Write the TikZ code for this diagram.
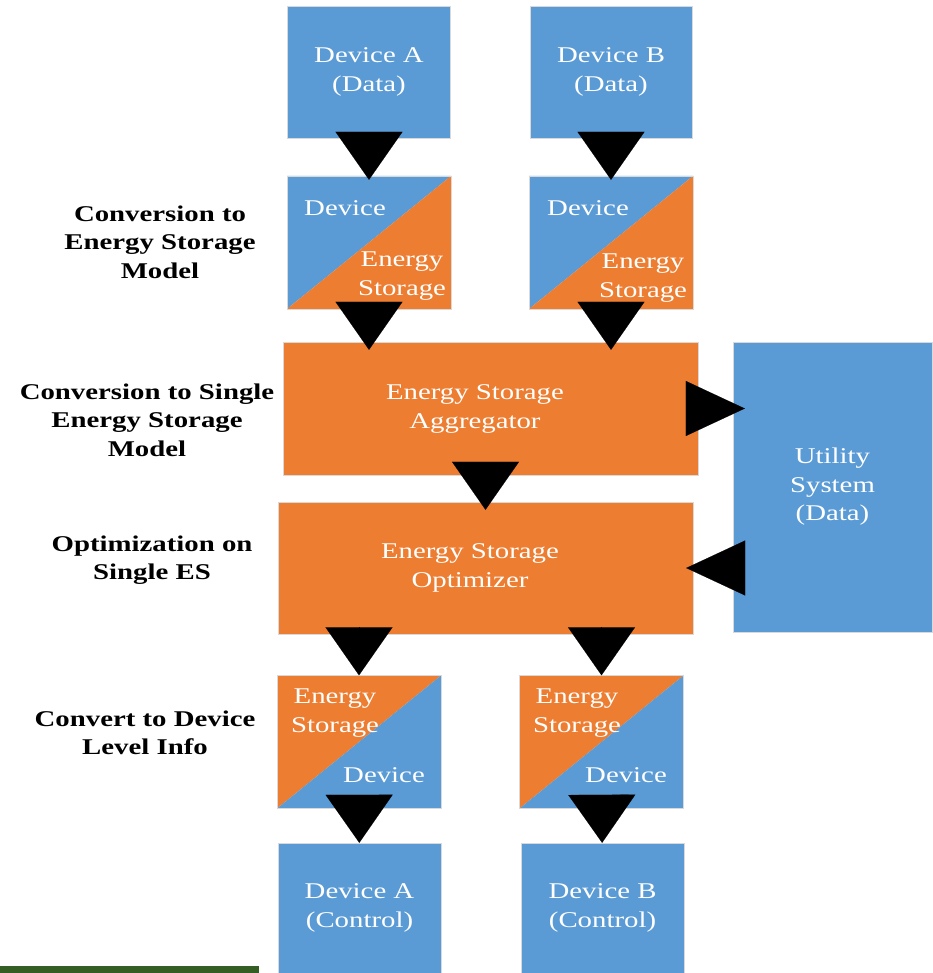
\documentclass[tikz,border=0pt]{standalone}
\usepackage{fontspec}
\setmainfont{Liberation Serif}[FakeStretch=1.28]
\usepackage{tikz}
\usetikzlibrary{arrows.meta}

\definecolor{boxblue}{HTML}{5B9BD5}
\definecolor{boxorange}{HTML}{ED7D31}
\definecolor{bargreen}{HTML}{345E24}

\begin{document}
\begin{tikzpicture}[
    x=1pt, y=-1pt,
    box/.style={
        draw=black!15,
        line width=0.4pt,
        inner sep=0pt,
        align=center,
        text=white,
        font=\fontsize{22.5}{28.5}\selectfont,
    },
    bluebox/.style={box, fill=boxblue},
    orangebox/.style={box, fill=boxorange},
    split/.style 2 args={
        box,
        minimum width=164pt,
        minimum height=133pt,
        path picture={
            \fill[#1] (path picture bounding box.south west) -- (path picture bounding box.north west) -- (path picture bounding box.north east) -- cycle;
            \fill[#2] (path picture bounding box.south west) -- (path picture bounding box.south east) -- (path picture bounding box.north east) -- cycle;
        },
    },
    boxtext/.style={
        align=center,
        text=white,
        inner sep=0pt,
        font=\fontsize{22.5}{28.5}\selectfont,
    },
    steplabel/.style={
        align=center,
        inner sep=0pt,
        font=\bfseries\fontsize{22.5}{28.5}\selectfont,
    },
    downflow/.style={
        -{Triangle[length=48pt, width=67pt]},
        line width=0.1pt,
    },
    sideflow/.style={
        -{Triangle[length=59pt, width=55pt]},
        line width=0.1pt,
    }
]
    \useasboundingbox (0,0) rectangle (932,973);

    % Input devices
    \node[bluebox, minimum width=163pt, minimum height=132pt] (devA) at (369,72) {Device A\\(Data)};
    \node[bluebox, minimum width=162pt, minimum height=132pt] (devB) at (611,72) {Device B\\(Data)};

    % Device to energy storage
    \node[split={boxblue}{boxorange}] (splitA) at (369,242.5) {};
    \node[split={boxblue}{boxorange}] (splitB) at (611,242.5) {};
    \node[boxtext] (splitAdev) at (345,208) {Device};
    \node[boxtext] (splitAes) at (402,276) {Energy\\Storage};
    \node[boxtext] (splitBdev) at (588,208) {Device};
    \node[boxtext] (splitBes) at (643,278) {Energy\\Storage};

    % Aggregator, optimizer, utility
    \node[orangebox, minimum width=415pt, minimum height=133pt] (agg) at (490.5,408.5) {};
    \node[boxtext] (aggText) at (475,409) {Energy Storage\\Aggregator};
    \node[orangebox, minimum width=415pt, minimum height=132pt] (opt) at (485.5,568) {};
    \node[boxtext] (optText) at (470,568) {Energy Storage\\Optimizer};
    \node[bluebox, minimum width=199pt, minimum height=290pt] (util) at (832.5,487) {Utility\\System\\(Data)};

    % Energy storage to device
    \node[split={boxorange}{boxblue}] (esA) at (359,742) {};
    \node[split={boxorange}{boxblue}] (esB) at (601.5,742) {};
    \node[boxtext] (esAes) at (335,713) {Energy\\Storage};
    \node[boxtext] (esAdev) at (384,775) {Device};
    \node[boxtext] (esBes) at (577,713) {Energy\\Storage};
    \node[boxtext] (esBdev) at (626,775) {Device};

    % Controlled devices
    \node[bluebox, minimum width=163pt, minimum height=130pt] (ctlA) at (359.5,908) {Device A\\(Control)};
    \node[bluebox, minimum width=163pt, minimum height=130pt] (ctlB) at (602.5,908) {Device B\\(Control)};

    % Step labels
    \node[steplabel] (lblConvert) at (160,242) {Conversion to\\Energy Storage\\Model};
    \node[steplabel] (lblSingle) at (147,420) {Conversion to Single\\Energy Storage\\Model};
    \node[steplabel] (lblOptim) at (152,560) {Optimization on\\Single ES};
    \node[steplabel] (lblDevice) at (145,733) {Convert to Device\\Level Info};

    % Flow
    \draw[downflow] (devA) -- ([yshift=-4pt]splitA.north);
    \draw[downflow] (devB) -- ([yshift=-4pt]splitB.north);
    \draw[downflow] (splitA.south) -- ([yshift=-8pt]splitA.south |- agg.north);
    \draw[downflow] (splitB.south) -- ([yshift=-8pt]splitB.south |- agg.north);
    \draw[downflow] (agg.south -| opt.north) -- ([yshift=-8pt]opt.north);
    \draw[sideflow] (agg.east) -- ([xshift=12pt]agg.east -| util.west);
    \draw[sideflow] (util.west |- opt.east) -- ([xshift=-7pt]opt.east);
    \draw[downflow] (opt.south -| esA.north) -- (esA.north);
    \draw[downflow] (opt.south -| esB.north) -- (esB.north);
    \draw[downflow] (esA) -- (ctlA);
    \draw[downflow] (esB) -- (ctlB);

    % Footer bar
    \fill[bargreen] (0,966) rectangle (259,973);
\end{tikzpicture}
\end{document}
